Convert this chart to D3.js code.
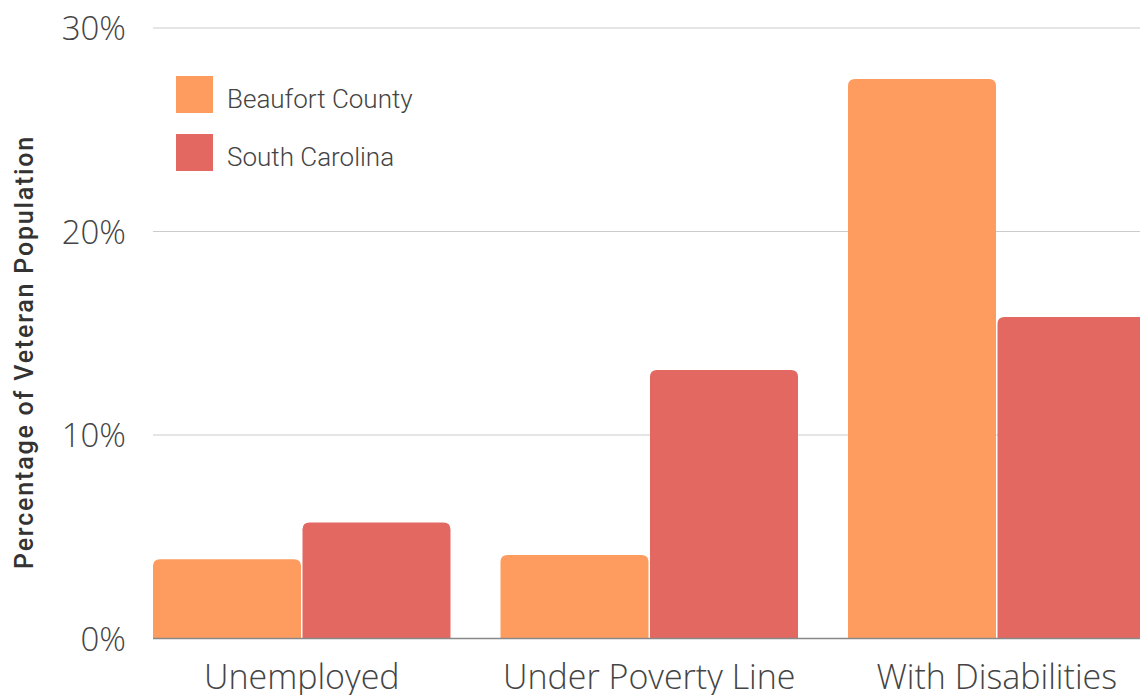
<!DOCTYPE html>
<html>
<head>
<meta charset="utf-8">
<script src="https://cdn.jsdelivr.net/npm/d3@7"></script>
<style>
  html, body { margin: 0; padding: 0; background: #fff; overflow: hidden; }
  svg { display: block; }
</style>
</head>
<body>
<svg id="chart" width="1140" height="695"></svg>
<script>
// Veteran population indicators, percent
const categories = ["Unemployed", "Under Poverty Line", "With Disabilities"];
const seriesNames = ["Beaufort County", "South Carolina"];
const beaufortValues = [3.9, 4.1, 27.5];
const southCarolinaValues = [5.7, 13.2, 15.8];
const yTicks = [0, 10, 20, 30];
const colors = ["#FE9C5F", "#E26861"];

const svg = d3.select("#chart");
const W = 1140, H = 695;
const plot = { left: 153, right: 1145.5, top: 28, bottom: 638.5 };

const rows = categories.map((c, i) => ({
  category: c,
  values: [beaufortValues[i], southCarolinaValues[i]]
}));

const x0 = d3.scaleBand()
  .domain(categories)
  .range([plot.left, plot.right])
  .paddingInner(0.1439)
  .paddingOuter(0);

const x1 = d3.scaleBand()
  .domain(seriesNames)
  .range([0, x0.bandwidth()])
  .paddingInner(0.01);

const y = d3.scaleLinear()
  .domain([0, 30])
  .range([plot.bottom, plot.top]);

// gridlines
svg.append("g")
  .selectAll("line")
  .data(yTicks.filter(t => t > 0))
  .join("line")
  .attr("x1", plot.left)
  .attr("x2", W + 20)
  .attr("y1", d => y(d))
  .attr("y2", d => y(d))
  .attr("stroke", "#cccccc")
  .attr("stroke-width", 1.2);

// y tick labels
const yAxis = d3.axisLeft(y).tickValues(yTicks).tickFormat(d => d + "%").tickSize(0).tickPadding(27);
const yg = svg.append("g").attr("transform", `translate(${plot.left},0)`).call(yAxis);
yg.select(".domain").remove();
yg.selectAll("text")
  .attr("font-family", "'Open Sans', sans-serif")
  .attr("font-weight", 300)
  .attr("font-size", 33)
  .attr("fill", "#444")
  .attr("dy", "0.36em");

// rounded-top bar path
function topRoundedBar(x, yTop, w, h, r) {
  r = Math.min(r, h, w / 2);
  return `M${x},${yTop + h}V${yTop + r}Q${x},${yTop} ${x + r},${yTop}` +
         `H${x + w - r}Q${x + w},${yTop} ${x + w},${yTop + r}V${yTop + h}Z`;
}

// bars
const groups = svg.append("g")
  .selectAll("g")
  .data(rows)
  .join("g")
  .attr("transform", d => `translate(${x0(d.category)},0)`);

groups.selectAll("path")
  .data(d => d.values.map((v, i) => ({ series: seriesNames[i], value: v, idx: i })))
  .join("path")
  .attr("d", d => topRoundedBar(x1(d.series), y(d.value), x1.bandwidth(), y(0) - y(d.value), 7))
  .attr("fill", d => colors[d.idx]);

// baseline
svg.append("line")
  .attr("x1", plot.left)
  .attr("x2", W + 20)
  .attr("y1", y(0))
  .attr("y2", y(0))
  .attr("stroke", "#888888")
  .attr("stroke-width", 1.6);

// category labels
const xAxis = d3.axisBottom(x0).tickSize(0).tickPadding(26);
const xg = svg.append("g").attr("transform", `translate(0,${plot.bottom})`).call(xAxis);
xg.select(".domain").remove();
xg.selectAll("text")
  .attr("font-family", "'Open Sans', sans-serif")
  .attr("font-weight", 300)
  .attr("font-size", 34)
  .attr("fill", "#444");

// y axis title
svg.append("text")
  .attr("transform", `translate(33,${352}) rotate(-90)`)
  .attr("text-anchor", "middle")
  .attr("font-family", "Roboto, sans-serif")
  .attr("font-weight", 500)
  .attr("font-size", 25)
  .attr("letter-spacing", 1.8)
  .attr("fill", "#333")
  .text("Percentage of Veteran Population");

// legend
const legend = svg.append("g").attr("transform", "translate(176,76)");
const items = legend.selectAll("g")
  .data(seriesNames)
  .join("g")
  .attr("transform", (d, i) => `translate(0,${i * 58})`);
items.append("rect")
  .attr("width", 37).attr("height", 37)
  .attr("fill", (d, i) => colors[i]);
items.append("text")
  .attr("x", 51).attr("y", 32)
  .attr("font-family", "Roboto, sans-serif")
  .attr("font-weight", 300)
  .attr("font-size", 26)
  .attr("fill", "#444")
  .text(d => d);
</script>
</body>
</html>
